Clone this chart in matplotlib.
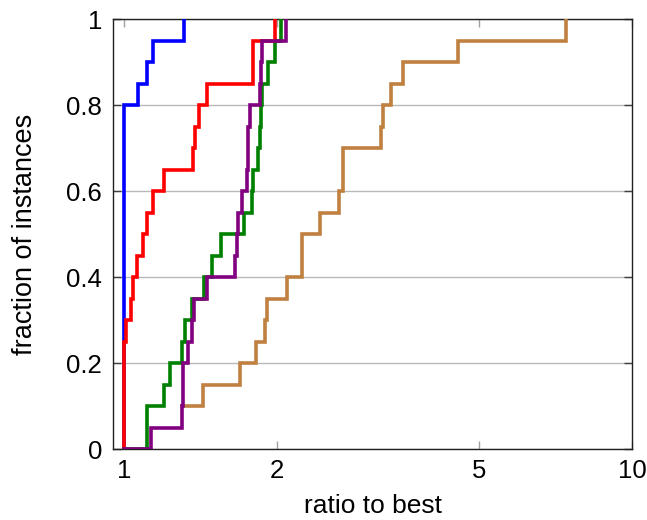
import numpy as np
import matplotlib.pyplot as plt

plt.rcParams['font.family'] = ['Liberation Sans', 'DejaVu Sans']

# performance profile data: ratio at which each curve steps up, and the level reached
blue_x = [1.0, 1.063, 1.108, 1.141, 1.311]
blue_y = [0.80, 0.85, 0.90, 0.95, 1.00]

red_x = [1.0, 1.008, 1.030, 1.042, 1.061, 1.090, 1.110, 1.138, 1.198, 1.368,
         1.379, 1.406, 1.454, 1.796, 1.982]
red_y = [0.25, 0.30, 0.35, 0.40, 0.45, 0.50, 0.55, 0.60, 0.65, 0.70,
         0.75, 0.80, 0.85, 0.95, 1.00]

green_x = [1.108, 1.199, 1.231, 1.298, 1.318, 1.358, 1.436, 1.487, 1.551, 1.724,
           1.783, 1.796, 1.837, 1.848, 1.856, 1.866, 1.922, 1.982, 2.037]
green_y = [0.10, 0.15, 0.20, 0.25, 0.30, 0.35, 0.40, 0.45, 0.50, 0.55,
           0.60, 0.65, 0.70, 0.75, 0.80, 0.85, 0.90, 0.95, 1.00]

purple_x = [1.128, 1.298, 1.304, 1.307, 1.334, 1.358, 1.374, 1.454, 1.653, 1.666,
            1.678, 1.704, 1.743, 1.751, 1.753, 1.769, 1.847, 1.856, 1.863, 2.081]
purple_y = [0.05, 0.10, 0.15, 0.20, 0.25, 0.30, 0.35, 0.40, 0.45, 0.50,
            0.55, 0.60, 0.65, 0.70, 0.75, 0.80, 0.85, 0.90, 0.95, 1.00]

brown_x = [1.298, 1.427, 1.691, 1.818, 1.894, 1.909, 2.090, 2.235, 2.243, 2.424,
           2.642, 2.695, 2.702, 3.202, 3.231, 3.355, 3.546, 4.552, 7.42]
brown_y = [0.10, 0.15, 0.20, 0.25, 0.30, 0.35, 0.40, 0.45, 0.50, 0.55,
           0.60, 0.65, 0.70, 0.75, 0.80, 0.85, 0.90, 0.95, 1.00]

x_ticks = [1, 2, 5, 10]
y_ticks = [0, 0.2, 0.4, 0.6, 0.8, 1]


def profile(xs, ys, start_zero=True):
    # build a step curve starting at ratio 1
    px, py = [], []
    if start_zero:
        px += [1.0, xs[0]]
        py += [0.0, 0.0]
    else:
        px.append(xs[0])
        py.append(ys[0])
    for x, y in zip(xs, ys):
        px += [x, x]
        py += [py[-1], y]
    return px, py


fig = plt.figure(figsize=(6.47, 5.2), dpi=100)
ax = fig.add_axes([0.1747, 0.1356, 0.9768 - 0.1747, 0.9629 - 0.1356])

lw = 2.6
for xs, ys, col, z in [(blue_x, blue_y, '#0000ff', 3),
                       (red_x, red_y, '#ff0000', 4),
                       (green_x, green_y, '#008000', 3),
                       (purple_x, purple_y, '#800080', 5)]:
    px, py = profile(xs, ys)
    ax.plot(px, py, color=col, lw=lw, zorder=z, solid_joinstyle='miter')

px, py = profile(brown_x, brown_y, start_zero=False)
ax.plot(px, py, color='#bf8040', lw=lw, zorder=4, solid_joinstyle='miter')

ax.set_xscale('log')
ax.set_xlim(0.95, 10)
ax.set_ylim(0, 1)
ax.set_xticks(x_ticks)
ax.set_xticklabels([str(t) for t in x_ticks])
ax.xaxis.set_minor_locator(plt.NullLocator())
ax.set_yticks(y_ticks)
ax.set_yticklabels(['0', '0.2', '0.4', '0.6', '0.8', '1'])

ax.yaxis.grid(True, color='#b8b8b8', lw=1.0)
ax.set_axisbelow(True)

ax.tick_params(axis='x', direction='in', top=True, bottom=True, length=6, width=1,
               color='#a0a0a0', labelsize=18.5, pad=7)
ax.tick_params(axis='y', direction='in', left=True, right=True, length=6, width=1,
               color='#404040', labelsize=18.5, pad=8)
for s in ax.spines.values():
    s.set_color('#202020')
    s.set_linewidth(1.0)

ax.set_xlabel('ratio to best', fontsize=19, va='center')
ax.set_ylabel('fraction of instances', fontsize=19.5, va='center')
ax.xaxis.set_label_coords(0.5, (449.5 - 506) / 430.2)
ax.yaxis.set_label_coords((25 - 113) / 519.0, 0.5)

fig.savefig('out.png', dpi=100)
